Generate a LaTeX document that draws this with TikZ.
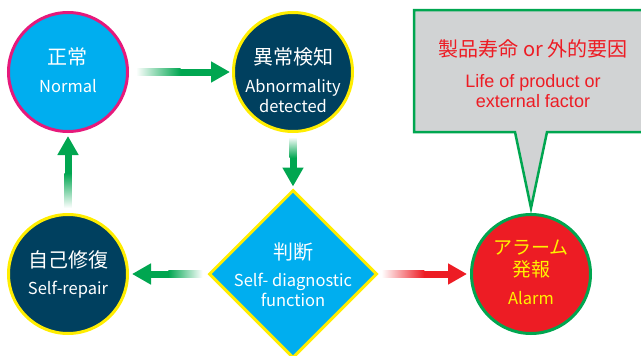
\documentclass[tikz,border=0pt]{standalone}
\usepackage{fontspec}
\setmainfont{Noto Sans CJK JP}
\newfontfamily\arialf{Liberation Sans}
\usetikzlibrary{shapes.geometric,arrows.meta,calc}
\definecolor{cyanc}{HTML}{00AEEF}
\definecolor{navyc}{HTML}{00405F}
\definecolor{magc}{HTML}{E6197B}
\definecolor{yelc}{HTML}{FFED00}
\definecolor{grnc}{HTML}{00A650}
\definecolor{redc}{HTML}{ED1C24}
\definecolor{grayc}{HTML}{D1D3D4}
\definecolor{alyel}{HTML}{FFF200}
\tikzset{
  stnode/.style={circle, minimum size=119pt, line width=3pt, inner sep=0pt},
  jp/.style={font=\fontsize{20}{22}\selectfont, text=white},
  en/.style={font=\fontsize{16.5}{19.5}\selectfont, text=white, align=center},
  garrow/.style={draw=grnc, line width=7pt, -{Triangle[length=19pt,width=20pt]}},
  rarrow/.style={draw=redc, line width=7pt, -{Triangle[length=19pt,width=20pt]}},
}
\begin{document}
\begin{tikzpicture}[x=1pt,y=-1pt]
\clip (0,0) rectangle (641,356);
\useasboundingbox (0,0) rectangle (641,356);
% callout
\coordinate (cotip) at (531,208);
\draw[grnc, fill=grayc, line width=2.5pt] (414,10) -- (650,10) -- (650,132) -- (547,132) -- (cotip) -- (515,132) -- (414,132) -- cycle;
\node[font=\fontsize{20}{22}\selectfont, text=redc] (cojp) at (533,49) {製品寿命 or 外的要因};
\node[font=\arialf\fontsize{18}{20}\selectfont, text=redc, align=center] (coen) at (533,91) {Life of product or\\external factor};
% nodes
\node[stnode, fill=cyanc, draw=magc] (normal) at (68,72) {};
\node[stnode, fill=navyc, draw=yelc] (abn) at (293,72) {};
\node[stnode, fill=navyc, draw=yelc] (repair) at (68,274) {};
\node[diamond, aspect=1, minimum size=168pt, inner sep=0pt, fill=cyanc, draw=yelc, line width=3pt] (diag) at (293,274) {};
\node[stnode, fill=redc, draw=grnc] (alarm) at (531,274) {};
% texts
\node[jp] (t1a) at (68,57) {正常};
\node[en] (t1b) at (68,86) {Normal};
\node[jp] (t2a) at (293,57) {異常検知};
\node[en] (t2b) at (293,96) {Abnormality\\detected};
\node[jp] (t3a) at (68,260) {自己修復};
\node[en] (t3b) at (68,290) {Self-repair};
\node[jp] (t4a) at (293,252) {判断};
\node[en] (t4b) at (293,290) {Self- diagnostic\\function};
\node[jp, text=alyel, align=center, font=\fontsize{19}{22}\selectfont] (t5a) at (531,259) {アラーム\\発報};
\node[en, text=alyel] (t5b) at (531,298) {Alarm};
% arrows (solid), then a white-to-colour shading over the tail half
\draw[garrow, shorten <=8pt, shorten >=2pt] (normal.east) -- (abn.west);
\shade[left color=white, right color=grnc] ($(normal.east)+(7,-3.6)$) rectangle ($(normal.east)!0.5!(abn.west)+(0,3.6)$);
\draw[garrow, shorten <=5pt, shorten >=2pt] (abn.south) -- (diag.north);
\shade[top color=white, bottom color=grnc] ($(abn.south)+(-3.6,4)$) rectangle ($(abn.south)!0.45!(diag.north)+(3.6,0)$);
\draw[garrow, shorten <=6pt, shorten >=3pt] (diag.west) -- (repair.east);
\shade[left color=grnc, right color=white] ($(diag.west)+(-5,-3.6)$) rectangle ($(diag.west)!0.5!(repair.east)+(0,3.6)$);
\draw[garrow, shorten <=6pt, shorten >=3pt] (repair.north) -- (normal.south);
\shade[top color=grnc, bottom color=white] ($(repair.north)+(3.6,-5)$) rectangle ($(repair.north)!0.5!(normal.south)+(-3.6,0)$);
\draw[rarrow, shorten <=4pt, shorten >=3pt] (diag.east) -- (alarm.west);
\shade[left color=white, right color=redc] ($(diag.east)+(3,-3.6)$) rectangle ($(diag.east)!0.5!(alarm.west)+(0,3.6)$);
\end{tikzpicture}
\end{document}
